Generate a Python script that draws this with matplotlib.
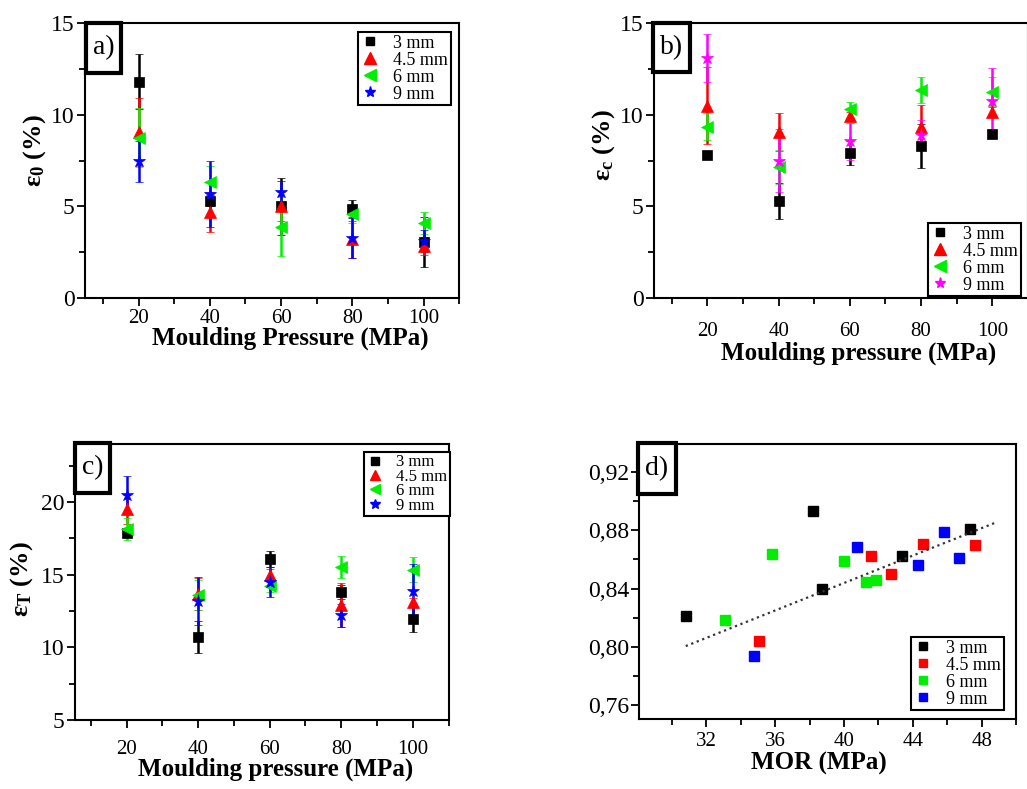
import matplotlib
matplotlib.use('Agg')
import matplotlib.pyplot as plt
from matplotlib.ticker import MultipleLocator, FuncFormatter
from matplotlib.patches import Rectangle
from matplotlib.lines import Line2D

plt.rcParams['font.family'] = ['Liberation Serif', 'DejaVu Serif']
plt.rcParams['mathtext.fontset'] = 'custom'
plt.rcParams['mathtext.rm'] = 'Liberation Serif'
plt.rcParams['mathtext.bf'] = 'Liberation Serif:bold'
plt.rcParams['mathtext.it'] = 'Liberation Serif:italic'

# ---------------- data ----------------
pressure = [20, 40, 60, 80, 100]
size_labels = ['3 mm', '4.5 mm', '6 mm', '9 mm']

# a) epsilon_0 (%)
e0_3 = [11.8, 5.3, 5.0, 4.85, 3.05]
e0_45 = [9.05, 4.7, 5.0, 3.2, 2.85]
e0_6 = [8.75, 6.35, 3.9, 4.6, 4.1]
e0_9 = [7.45, 5.65, 5.8, 3.3, 3.1]
e0_3_err = [1.5, 0.3, 1.55, 0.5, 1.35]
e0_45_err = [1.85, 1.1, 0.8, 1.0, 0.5]
e0_6_err = [1.6, 0.85, 1.6, 0.5, 0.6]
e0_9_err = [1.1, 1.8, 0.6, 1.1, 0.6]

# b) epsilon_c (%)
ec_3 = [7.8, 5.3, 7.9, 8.3, 8.95]
ec_45 = [10.5, 9.05, 9.95, 9.35, 10.15]
ec_6 = [9.35, 7.15, 10.3, 11.35, 11.25]
ec_9 = [13.1, 7.5, 8.55, 8.9, 10.75]
ec_3_err = [0.15, 1.0, 0.65, 1.2, 0.2]
ec_45_err = [2.1, 1.05, 0.2, 1.2, 0.25]
ec_6_err = [0.75, 0.95, 0.4, 0.7, 0.8]
ec_9_err = [1.3, 1.7, 1.0, 0.8, 1.8]

# c) epsilon_T (%)
et_3 = [17.9, 10.7, 16.05, 13.8, 11.95]
et_45 = [19.5, 13.7, 15.0, 12.9, 13.1]
et_6 = [18.15, 13.6, 14.25, 15.55, 15.35]
et_9 = [20.5, 13.2, 14.5, 12.2, 13.85]
et_3_err = [0.3, 1.1, 0.55, 0.5, 0.9]
et_45_err = [1.0, 1.1, 0.4, 1.5, 0.3]
et_6_err = [0.75, 1.05, 0.45, 0.75, 0.85]
et_9_err = [1.3, 1.65, 1.0, 0.8, 1.9]

# d) MOR (MPa) vs ratio
mor_3 = [30.83, 38.21, 38.74, 43.36, 47.34]
val_3 = [0.8209, 0.8935, 0.8396, 0.8621, 0.8809]
mor_45 = [35.07, 41.57, 42.72, 44.62, 47.59]
val_45 = [0.8041, 0.8621, 0.8503, 0.8710, 0.8698]
mor_6 = [33.07, 35.84, 40.0, 41.26, 41.84]
val_6 = [0.8185, 0.8640, 0.8587, 0.8447, 0.8459]
mor_9 = [34.76, 40.78, 44.29, 45.79, 46.66]
val_9 = [0.7939, 0.8686, 0.8561, 0.8786, 0.8610]
trend_x = [30.8, 48.9]
trend_y = [0.8004, 0.8858]

# ---------------- figure ----------------
W, H = 1027, 789
fig = plt.figure(figsize=(W / 100, H / 100), dpi=100)


def axes_px(left, top, right, bottom):
    return fig.add_axes([left / W, (H - bottom) / H, (right - left) / W, (bottom - top) / H])


ax_a = axes_px(85.2, 23, 459.2, 298)
ax_b = axes_px(653.9, 23, 1027.9, 298)
ax_c = axes_px(74.9, 444, 448.5, 720)
ax_d = axes_px(639.3, 444, 1016, 719.3)

XTICK_FS = 15
YTICK_FS = 17
LABEL_FS = 18
YLABEL_FS = 19
LEG_FS = 13

base_colors = ['black', '#ff0000', '#00ee00', '#0000ff']
markers = ['s', '^', '<', '*']
msizes = [6.5, 8.5, 8.5, 9.5]


def style_axes(ax, xmajor, xminor, ymajor, yminor, pad_x=3):
    for sp in ax.spines.values():
        sp.set_linewidth(1.5)
    ax.xaxis.set_major_locator(MultipleLocator(xmajor))
    ax.xaxis.set_minor_locator(MultipleLocator(xminor))
    ax.yaxis.set_major_locator(MultipleLocator(ymajor))
    ax.yaxis.set_minor_locator(MultipleLocator(yminor))
    ax.tick_params(which='both', direction='out', top=False, right=False, width=1.3)
    ax.tick_params(which='major', length=6)
    ax.tick_params(which='minor', length=4)
    ax.tick_params(axis='x', which='major', pad=pad_x, labelsize=XTICK_FS)
    ax.tick_params(axis='y', which='major', pad=1.5, labelsize=YTICK_FS)


def strain_panel(ax, ys, errs, colors):
    for y, e, c, m, ms in zip(ys, errs, colors, markers, msizes):
        ax.errorbar(pressure, y, yerr=e, fmt=m, color=c, ecolor=c, markersize=ms,
                    elinewidth=1.8, capsize=3, capthick=1.5, markeredgewidth=0.5)


def legend_at(ax, colors, mk, ms, left, top, fs, spacing=0.0):
    handles = [Line2D([], [], linestyle='none', marker=m, color=c, markersize=s)
               for c, m, s in zip(colors, mk, ms)]
    leg = ax.legend(handles, size_labels, loc='upper left',
                    bbox_to_anchor=(left / W, (H - top) / H), bbox_transform=fig.transFigure,
                    fontsize=fs, frameon=True, fancybox=False, framealpha=1,
                    edgecolor='black', borderpad=0.15, labelspacing=spacing,
                    handlelength=1.0, handletextpad=0.8, borderaxespad=0.0)
    leg.get_frame().set_linewidth(1.5)
    return leg


def label_box(left, top, right, bottom, text):
    r = Rectangle((left / W, (H - bottom) / H), (right - left) / W, (bottom - top) / H,
                  transform=fig.transFigure, facecolor='white', edgecolor='black',
                  linewidth=3, zorder=10)
    fig.add_artist(r)
    fig.text((left + right) / 2 / W, (H - (top + bottom) / 2) / H, text,
             ha='center', va='center', fontsize=20, zorder=11)


# a)
strain_panel(ax_a, [e0_3, e0_45, e0_6, e0_9],
             [e0_3_err, e0_45_err, e0_6_err, e0_9_err], base_colors)
ax_a.set_xlim(5, 110)
ax_a.set_ylim(0, 15)
style_axes(ax_a, 20, 10, 5, 2.5, pad_x=2)
ax_a.set_xlabel('Moulding Pressure (MPa)', fontsize=LABEL_FS, fontweight='bold')
ax_a.xaxis.set_label_coords(0.548, -0.103)
ax_a.set_ylabel(r'$\mathbf{\varepsilon_0}$ (%)', fontsize=YLABEL_FS, fontweight='bold')
ax_a.yaxis.set_label_coords(-0.0995, 0.535)
legend_at(ax_a, base_colors, markers, [6, 8, 8, 8], 358, 32, LEG_FS)

# b)
colors_b = ['black', '#ff0000', '#00ee00', '#ff00ff']
strain_panel(ax_b, [ec_3, ec_45, ec_6, ec_9],
             [ec_3_err, ec_45_err, ec_6_err, ec_9_err], colors_b)
ax_b.set_xlim(5, 110)
ax_b.set_ylim(0, 15)
style_axes(ax_b, 20, 10, 5, 2.5, pad_x=11)
ax_b.set_xlabel('Moulding pressure (MPa)', fontsize=LABEL_FS, fontweight='bold')
ax_b.xaxis.set_label_coords(0.548, -0.158)
ax_b.set_ylabel(r'$\mathbf{\varepsilon_c}$ (%)', fontsize=YLABEL_FS, fontweight='bold')
ax_b.yaxis.set_label_coords(-0.099, 0.556)
legend_at(ax_b, colors_b, markers, [6, 8, 8, 8], 928, 223, LEG_FS)

# c)
strain_panel(ax_c, [et_3, et_45, et_6, et_9],
             [et_3_err, et_45_err, et_6_err, et_9_err], base_colors)
ax_c.set_xlim(5.5, 110)
ax_c.set_ylim(5, 24)
style_axes(ax_c, 20, 10, 5, 2.5, pad_x=8.5)
ax_c.set_xlabel('Moulding pressure (MPa)', fontsize=LABEL_FS, fontweight='bold')
ax_c.xaxis.set_label_coords(0.538, -0.137)
ax_c.set_ylabel(r'$\mathbf{\varepsilon_T}$ (%)', fontsize=YLABEL_FS, fontweight='bold')
ax_c.yaxis.set_label_coords(-0.107, 0.511)
legend_at(ax_c, base_colors, markers, [5.5, 7, 7, 7.5], 364, 452, 12, spacing=-0.1)

# d)
for xs, ys, c in zip([mor_3, mor_45, mor_6, mor_9], [val_3, val_45, val_6, val_9], base_colors):
    ax_d.plot(xs, ys, linestyle='none', marker='s', color=c, markersize=6.5)
ax_d.plot(trend_x, trend_y, linestyle=':', color='#333333', linewidth=1.6)
ax_d.set_xlim(28.1, 50)
ax_d.set_ylim(0.75, 0.9395)
style_axes(ax_d, 4, 2, 0.04, 0.02, pad_x=3.0)
ax_d.yaxis.set_major_formatter(FuncFormatter(lambda v, p: f'{v:.2f}'.replace('.', ',')))
ax_d.set_xlabel('MOR (MPa)', fontsize=LABEL_FS, fontweight='bold')
ax_d.xaxis.set_label_coords(0.477, -0.12)
legend_at(ax_d, base_colors, ['s'] * 4, [6] * 4, 911, 637, LEG_FS)

label_box(86, 23, 121, 73, 'a)')
label_box(653, 23, 690, 72, 'b)')
label_box(75, 443, 110, 493, 'c)')
label_box(638, 443, 676, 494, 'd)')

fig.savefig('out.png', dpi=100)
